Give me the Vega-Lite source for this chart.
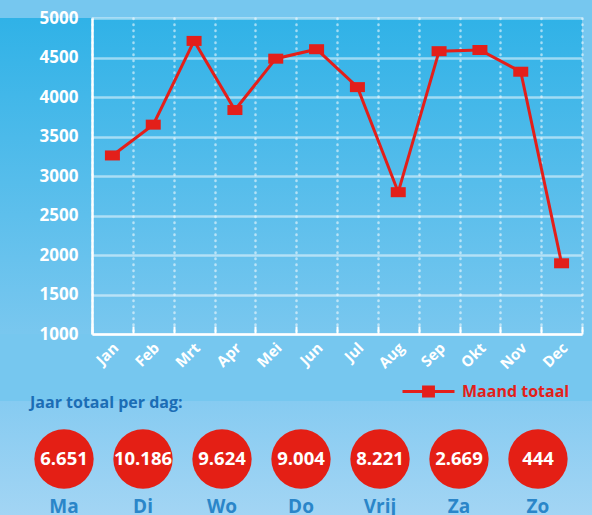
{
  "$schema": "https://vega.github.io/schema/vega-lite/v6.json",
  "padding": {"left": 0, "top": 9, "right": 0, "bottom": 0},
  "background": "#76c7ef",
  "spacing": 23,
  "config": {
    "view": {"stroke": null},
    "font": "Open Sans",
    "locale": {"number": {"decimal": ",", "thousands": ".", "grouping": [3], "currency": ["€", ""]}}
  },
  "vconcat": [
    {
      "bounds": "flush",
      "spacing": 0,
      "hconcat": [
        {
          "width": 92,
          "height": 316,
          "view": {
            "stroke": null,
            "fill": {"gradient": "linear", "x1": 0, "y1": 0, "x2": 0, "y2": 1,
              "stops": [{"offset": 0, "color": "#30b2e7"}, {"offset": 1, "color": "#79c7ef"}]}
          },
          "data": {"values": []},
          "mark": "point"
        },
        {
          "width": 490,
          "height": 316,
          "view": {
            "stroke": null,
            "fill": {"gradient": "linear", "x1": 0, "y1": 0, "x2": 0, "y2": 1,
              "stops": [{"offset": 0, "color": "#30b2e7"}, {"offset": 1, "color": "#79c7ef"}]}
          },
          "data": {"values": [
            {"maand": "Jan", "totaal": 3260},
            {"maand": "Feb", "totaal": 3650},
            {"maand": "Mrt", "totaal": 4710},
            {"maand": "Apr", "totaal": 3835},
            {"maand": "Mei", "totaal": 4485},
            {"maand": "Jun", "totaal": 4605},
            {"maand": "Jul", "totaal": 4125},
            {"maand": "Aug", "totaal": 2795},
            {"maand": "Sep", "totaal": 4580},
            {"maand": "Okt", "totaal": 4595},
            {"maand": "Nov", "totaal": 4320},
            {"maand": "Dec", "totaal": 1895}
          ]},
          "encoding": {
            "x": {
              "field": "maand", "type": "ordinal", "sort": null,
              "scale": {"type": "band", "paddingInner": 0, "paddingOuter": 0},
              "axis": {
                "title": null,
                "tickBand": "extent",
                "grid": true,
                "gridColor": "#ffffff", "gridOpacity": 0.55, "gridWidth": 2.5,
                "gridDash": [0.5, 5.5], "gridCap": "round",
                "domainColor": "#ffffff", "domainWidth": 2.5,
                "tickColor": "#ffffff", "tickWidth": 2, "tickSize": -8,
                "labelAngle": -45, "labelAlign": "right", "labelBaseline": "middle",
                "labelColor": "#ffffff", "labelFontSize": 15, "labelFontWeight": "bold",
                "labelPadding": 19, "labelOffset": 3
              }
            },
            "y": {
              "field": "totaal", "type": "quantitative",
              "scale": {"domain": [1000, 5000], "nice": false, "zero": false},
              "axis": {
                "title": null,
                "values": [1000, 1500, 2000, 2500, 3000, 3500, 4000, 4500, 5000],
                "format": "d",
                "grid": true, "gridColor": "#ffffff", "gridOpacity": 0.5, "gridWidth": 2.5,
                "ticks": false,
                "domainColor": "#ffffff", "domainWidth": 2.5,
                "labelColor": "#ffffff", "labelFontSize": 17, "labelFontWeight": "bold",
                "labelPadding": 14
              }
            },
            "color": {
              "datum": "Maand totaal",
              "scale": {"range": ["#e31f1a"]},
              "legend": {
                "orient": "none", "legendX": 401, "legendY": 346,
                "title": null,
                "labelColor": "#e31f1a", "labelFontSize": 16, "labelFontWeight": "bold",
                "labelOffset": 6,
                "symbolType": "M-1,0L1,0M-0.19,-0.17L0.19,-0.17L0.19,0.17L-0.19,0.17Z",
                "symbolSize": 2704, "symbolStrokeWidth": 3,
                "symbolFillColor": "#e31f1a", "symbolStrokeColor": "#e31f1a",
                "encode": {"symbols": {"update": {
                  "fill": {"value": "#e31f1a"}, "stroke": {"value": "#e31f1a"},
                  "strokeWidth": {"value": 3}, "opacity": {"value": 1}
                }}}
              }
            }
          },
          "layer": [
            {"mark": {"type": "line", "strokeWidth": 3}},
            {"mark": {"type": "point", "filled": true, "opacity": 1, "size": 225,
              "shape": "M-1,-0.667L1,-0.667L1,0.667L-1,0.667Z"}}
          ]
        }
      ]
    },
    {
      "width": 592,
      "height": 116,
      "view": {
        "stroke": null,
        "fill": {"gradient": "linear", "x1": 0, "y1": 0, "x2": 0, "y2": 1,
          "stops": [{"offset": 0, "color": "#86cbf1"}, {"offset": 1, "color": "#a3d5f4"}]}
      },
      "title": {
        "text": "Jaar totaal per dag:", "anchor": "start", "dx": 30,
        "color": "#1b6db5", "fontSize": 16, "fontWeight": "bold", "offset": -10
      },
      "data": {"values": [
        {"dag": "Ma", "totaal": 6651},
        {"dag": "Di", "totaal": 10186},
        {"dag": "Wo", "totaal": 9624},
        {"dag": "Do", "totaal": 9004},
        {"dag": "Vrij", "totaal": 8221},
        {"dag": "Za", "totaal": 2669},
        {"dag": "Zo", "totaal": 444}
      ]},
      "encoding": {
        "x": {
          "field": "dag", "type": "ordinal", "sort": null,
          "scale": {"type": "band", "paddingInner": 0, "paddingOuter": 0.247, "align": 0.628},
          "axis": {
            "title": null, "domain": false, "ticks": false, "grid": false,
            "offset": -25,
            "labelAngle": 0, "labelColor": "#2a86c9", "labelFontSize": 19,
            "labelFontWeight": "bold", "labelPadding": 5
          }
        }
      },
      "layer": [
        {"mark": {"type": "point", "shape": "circle", "filled": true, "opacity": 1,
          "size": 3520, "color": "#e41f15"}},
        {"mark": {"type": "text", "color": "#ffffff", "fontSize": 18.5, "fontWeight": "bold"},
          "encoding": {"text": {"field": "totaal", "type": "quantitative", "format": ",d"}}}
      ]
    }
  ]
}
